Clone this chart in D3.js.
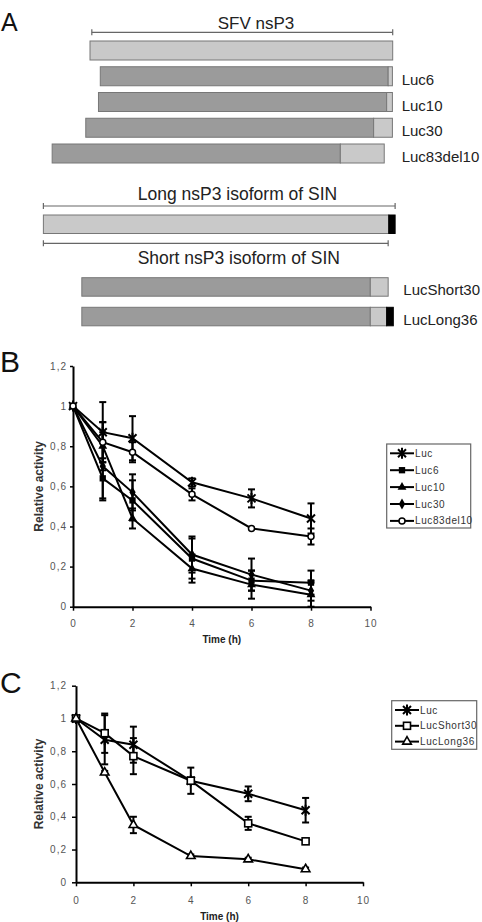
<!DOCTYPE html>
<html lang="en">
<head>
<meta charset="UTF-8">
<title>nsP3 constructs and relative activity</title>
<script src="https://d3js.org/d3.v7.min.js"></script>
<style>
body{margin:0;background:#fff;}
svg{display:block;font-family:"Liberation Sans",Arial,sans-serif;}
.axis .domain{stroke:#000;stroke-width:2;}
.axis .tick line{stroke:#000;stroke-width:1.5;}
.axis .tick text{fill:#555;font-size:10px;letter-spacing:1px;font-family:"Liberation Sans",Arial,sans-serif;}
.bar{stroke:#777;stroke-width:1;}
.luc{fill:#9b9b9b;}
.nsp3{fill:#c9c9c9;}
.tail{fill:#000;stroke:#000;}
.series{fill:none;stroke:#000;stroke-width:2;}
.err{stroke:#000;stroke-width:2;}
</style>
</head>
<body>
<script>
// ---- panel A: constructs, in units of the SFV nsP3 length (0..100)
var sfvLabels = ["", "Luc6", "Luc10", "Luc30", "Luc83del10"];
var sfvSegments = [
  [["nsp3", 0, 100]],
  [["luc", 3.4, 98.5], ["nsp3", 98.5, 99.9]],
  [["luc", 2.8, 98.0], ["nsp3", 98.0, 99.9]],
  [["luc", -1.4, 93.7], ["nsp3", 93.7, 99.9]],
  [["luc", -12.5, 82.7], ["nsp3", 82.7, 97.2]]
];
var sinLabels = ["LucShort30", "LucLong36"];
var sinLong = [["nsp3", -15.4, 98.7], ["tail", 98.7, 100.8]];
var sinSegments = [
  [["luc", -2.7, 92.6], ["nsp3", 92.6, 98.5]],
  [["luc", -2.7, 92.6], ["nsp3", 92.6, 98.0], ["tail", 98.0, 100.2]]
];
var sfvSpan = [0.6, 100];
var longSpan = [-15.4, 100.8];
var shortSpan = [-15.4, 98.5];

// ---- panels B and C: relative activity over time
var times = [0, 1, 2, 4, 6, 8];
var xTicks = [0, 2, 4, 6, 8, 10];
var yTicks = [0, 0.2, 0.4, 0.6, 0.8, 1, 1.2];

var luc        = [1, 0.87, 0.84, 0.62, 0.54, 0.44];
var lucErr     = [0, 0.15, 0.11, 0.02, 0.045, 0.075];
var luc6       = [1, 0.64, 0.53, 0.24, 0.13, 0.12];
var luc6Err    = [0, 0.10, 0.10, 0.10, 0.05, 0.06];
var luc10      = [1, 0.80, 0.44, 0.19, 0.11, 0.06];
var luc10Err   = [0, 0.12, 0.05, 0.07, 0.07, 0.06];
var luc30      = [1, 0.70, 0.57, 0.26, 0.16, 0.08];
var luc30Err   = [0, 0.17, 0.09, 0.09, 0.08, 0.05];
var luc83      = [1, 0.82, 0.77, 0.56, 0.39, 0.35];
var luc83Err   = [0, 0.10, 0.05, 0.03, 0, 0.04];
var short30    = [1, 0.91, 0.77, 0.62, 0.36, 0.25];
var short30Err = [0, 0.12, 0.11, 0.08, 0.04, 0.01];
var long36     = [1, 0.67, 0.35, 0.16, 0.14, 0.08];
var long36Err  = [0, 0.01, 0.05, 0.01, 0.01, 0.01];

var namesB = ["Luc", "Luc6", "Luc10", "Luc30", "Luc83del10"];
var namesC = ["Luc", "LucShort30", "LucLong36"];

var W = 482, H = 922;
var svg = d3.select("body").append("svg").attr("width", W).attr("height", H);
svg.append("rect").attr("width", W).attr("height", H).attr("fill", "#fff");

function panelLetter(t, x, y, size) {
  svg.append("text").text(t).attr("x", x).attr("y", y)
     .style("font-size", size + "px").attr("fill", "#111");
}

// ================= Panel A
panelLetter("A", 1, 31, 25);
var xA = d3.scaleLinear().domain([0, 100]).range([90, 392.7]);
var rowY = d3.scaleLinear().domain([0, 1]).range([41, 66.75]);
var barH = 19;

function bracket(span, y) {
  var g = svg.append("g").attr("stroke", "#666").attr("stroke-width", 1.2);
  g.append("line").attr("x1", xA(span[0])).attr("x2", xA(span[1])).attr("y1", y).attr("y2", y);
  span.forEach(function(s) {
    g.append("line").attr("x1", xA(s)).attr("x2", xA(s)).attr("y1", y - 3).attr("y2", y + 3);
  });
}
function drawBar(segs, y, h) {
  segs.forEach(function(s) {
    svg.append("rect").attr("class", "bar " + s[0])
       .attr("x", xA(s[1])).attr("width", xA(s[2]) - xA(s[1]))
       .attr("y", y).attr("height", h);
  });
}
function label(t, x, y, size, anchor) {
  svg.append("text").text(t).attr("x", x).attr("y", y)
     .attr("text-anchor", anchor || "start")
     .style("font-size", size + "px").attr("fill", "#222");
}

bracket(sfvSpan, 32.3);
label("SFV nsP3", 256, 29, 17, "middle");
sfvSegments.forEach(function(segs, i) {
  drawBar(segs, rowY(i), barH);
  if (sfvLabels[i]) label(sfvLabels[i], 401.7, rowY(i) + barH / 2 + 8.5, 15);
});

label("Long nsP3 isoform of SIN", 237.5, 200, 17.5, "middle");
bracket(longSpan, 206);
drawBar(sinLong, 215, 18.5);
bracket(shortSpan, 243.3);
label("Short nsP3 isoform of SIN", 238.8, 264, 17.5, "middle");
var sinY = d3.scaleLinear().domain([0, 1]).range([277.7, 307.3]);
sinSegments.forEach(function(segs, i) {
  drawBar(segs, sinY(i), 18.5);
  label(sinLabels[i], 403.3, sinY(i) + 9.25 + 8, 15);
});

// ================= markers
function marker(g, type) {
  if (type === "asterisk") {
    g.append("path").attr("d", "M-4,-4L4,4M-4,4L4,-4M0,-5.5V5.5")
     .attr("stroke", "#000").attr("stroke-width", 2).attr("fill", "none");
  } else if (type === "circle") {
    g.append("circle").attr("r", 3).attr("fill", "#fff").attr("stroke", "#000").attr("stroke-width", 1.5);
  } else if (type === "osquare") {
    g.append("rect").attr("x", -3.5).attr("y", -3.5).attr("width", 7).attr("height", 7)
     .attr("fill", "#fff").attr("stroke", "#000").attr("stroke-width", 1.6);
  } else if (type === "otriangle") {
    g.append("path").attr("d", d3.symbol(d3.symbolTriangle, 32)())
     .attr("fill", "#fff").attr("stroke", "#000").attr("stroke-width", 1.6);
  } else {
    var sym = {square: d3.symbolSquare, triangle: d3.symbolTriangle, diamond: d3.symbolDiamond}[type];
    var size = {square: 40, triangle: 34, diamond: 34}[type];
    g.append("path").attr("d", d3.symbol(sym, size)()).attr("fill", "#000");
  }
}

// ================= line charts
function lineChart(cfg) {
  var x = d3.scaleLinear().domain([0, 10]).range(cfg.xr);
  var y = d3.scaleLinear().domain([0, 1.2]).range(cfg.yr);
  var fmt = function(d) { return (d === 0 || d === 1) ? String(d) : d.toFixed(1).replace(".", ","); };

  svg.append("g").attr("class", "axis")
     .attr("transform", "translate(" + cfg.xr[0] + ",0)")
     .call(d3.axisLeft(y).tickValues(yTicks).tickFormat(fmt).tickSizeInner(cfg.ytick).tickSizeOuter(0).tickPadding(cfg.ypad));
  svg.append("g").attr("class", "axis")
     .attr("transform", "translate(0," + cfg.yr[0] + ")")
     .call(d3.axisBottom(x).tickValues(xTicks).tickFormat(d3.format("d")).tickSizeInner(4).tickSizeOuter(0).tickPadding(cfg.xpad));

  svg.append("text").text("Relative activity")
     .attr("transform", "translate(" + cfg.ylabX + "," + (cfg.yr[0] + cfg.yr[1]) / 2 + ") rotate(-90)")
     .attr("text-anchor", "middle").style("font-size", "12px").style("font-weight", "bold").attr("fill", "#333");
  svg.append("text").text("Time (h)")
     .attr("x", (cfg.xr[0] + cfg.xr[1]) / 2).attr("y", cfg.tY)
     .attr("text-anchor", "middle").style("font-size", "10px").style("font-weight", "bold").attr("fill", "#222");

  var line = d3.line().x(function(d, i) { return x(times[i]); }).y(function(d) { return y(d); });
  cfg.values.forEach(function(v) {
    svg.append("path").attr("class", "series").attr("d", line(v));
  });
  cfg.values.forEach(function(v, s) {
    v.forEach(function(d, i) {
      var e = cfg.errors[s][i];
      if (!e) return;
      var g = svg.append("g").attr("class", "err");
      var xx = x(times[i]);
      g.append("line").attr("x1", xx).attr("x2", xx).attr("y1", y(d - e)).attr("y2", y(d + e));
      [d - e, d + e].forEach(function(c) {
        g.append("line").attr("x1", xx - 3.5).attr("x2", xx + 3.5).attr("y1", y(c)).attr("y2", y(c));
      });
    });
  });
  cfg.values.forEach(function(v, s) {
    v.forEach(function(d, i) {
      marker(svg.append("g").attr("transform", "translate(" + x(times[i]) + "," + y(d) + ")"), cfg.symbols[s]);
    });
  });

  // legend
  var L = cfg.legend;
  svg.append("rect").attr("x", L.x).attr("y", L.y).attr("width", L.w).attr("height", L.h)
     .attr("fill", "#fff").attr("stroke", "#666").attr("stroke-width", 1.2);
  cfg.names.forEach(function(n, i) {
    var yy = L.y0 + i * L.dy;
    svg.append("line").attr("x1", L.lx).attr("x2", L.lx + 24).attr("y1", yy).attr("y2", yy)
       .attr("stroke", "#000").attr("stroke-width", 2);
    marker(svg.append("g").attr("transform", "translate(" + (L.lx + 12) + "," + yy + ")"), cfg.symbols[i]);
    svg.append("text").text(n).attr("x", L.lx + 25).attr("y", yy).attr("dy", "0.35em")
       .style("font-size", "10px").style("letter-spacing", "0.6px").attr("fill", "#333");
  });
}

panelLetter("B", 0, 372, 30);
lineChart({
  xr: [73, 370.5], yr: [606.7, 366],
  ytick: 3, ypad: 3, xpad: 9, ylabX: 43, tY: 643,
  names: namesB,
  values: [luc, luc6, luc10, luc30, luc83],
  errors: [lucErr, luc6Err, luc10Err, luc30Err, luc83Err],
  symbols: ["asterisk", "square", "triangle", "diamond", "circle"],
  legend: {x: 386.7, y: 444, w: 84, h: 84, y0: 453.3, dy: 16.9, lx: 390}
});

panelLetter("C", 0, 693, 30);
lineChart({
  xr: [76, 363], yr: [882.3, 685.7],
  ytick: 4, ypad: 5, xpad: 11, ylabX: 43, tY: 920,
  names: namesC,
  values: [luc, short30, long36],
  errors: [lucErr, short30Err, long36Err],
  symbols: ["asterisk", "osquare", "otriangle"],
  legend: {x: 391.7, y: 700.7, w: 85, h: 48.6, y0: 710, dy: 15.8, lx: 395}
});
</script>
</body>
</html>
